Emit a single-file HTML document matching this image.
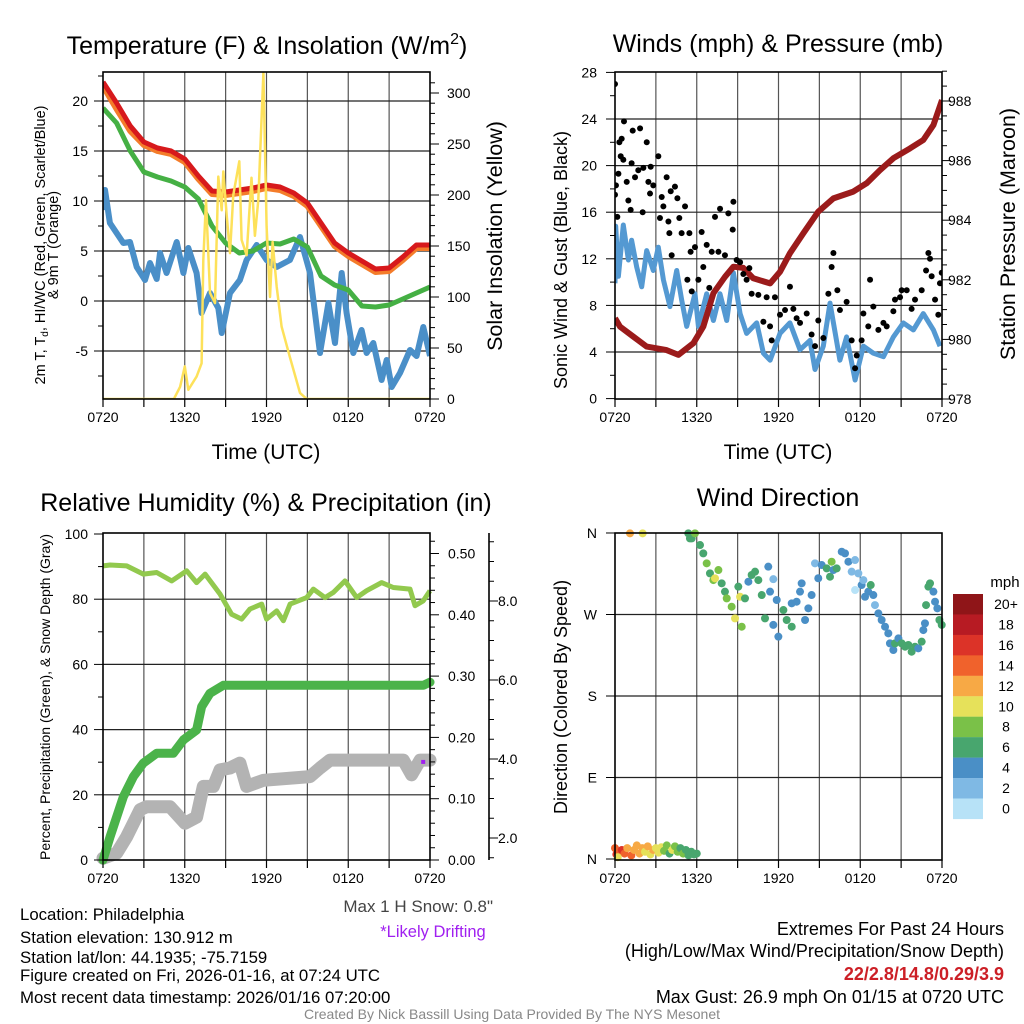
<!DOCTYPE html>
<html><head><meta charset="utf-8"><style>
body{margin:0;background:#fff;}
svg{display:block;font-family:"Liberation Sans",Arial,sans-serif;}
</style></head><body>
<svg id="chart" width="1024" height="1024" viewBox="0 0 1024 1024" xmlns="http://www.w3.org/2000/svg">
<rect width="1024" height="1024" fill="#fff"/>
<defs>
<clipPath id="c1"><rect x="103" y="72" width="327" height="327"/></clipPath>
<clipPath id="c2"><rect x="615" y="72" width="327" height="327"/></clipPath>
<clipPath id="c3"><rect x="96" y="526" width="342" height="340"/></clipPath>
<clipPath id="c4"><rect x="605" y="525" width="345" height="345"/></clipPath>
</defs>
<g id="g1"></g>
<g id="g2"></g>
<g id="g3"></g>
<g id="g4"></g>
<g font-size="25" fill="#000">
<text x="267" y="54" text-anchor="middle">Temperature (F) &amp; Insolation (W/m<tspan dy="-10" font-size="16">2</tspan><tspan dy="10">)</tspan></text>
<text x="778" y="52" text-anchor="middle">Winds (mph) &amp; Pressure (mb)</text>
<text x="266" y="511" text-anchor="middle">Relative Humidity (%) &amp; Precipitation (in)</text>
<text x="778" y="506" text-anchor="middle">Wind Direction</text>
<text x="266" y="459" text-anchor="middle" font-size="21">Time (UTC)</text>
<text x="778" y="459" text-anchor="middle" font-size="21">Time (UTC)</text>
<text transform="translate(45,245) rotate(-90)" text-anchor="middle" font-size="14.5"><tspan x="0" dy="0">2m T, T<tspan font-size="10" dy="3">d</tspan><tspan dy="-3">, HI/WC (Red, Green, Scarlet/Blue)</tspan></tspan><tspan x="0" dy="13">&amp; 9m T (Orange)</tspan></text>
<text transform="translate(502,236) rotate(-90)" text-anchor="middle" font-size="21.5">Solar Insolation (Yellow)</text>
<text transform="translate(567,260) rotate(-90)" text-anchor="middle" font-size="18">Sonic Wind &amp; Gust (Blue, Black)</text>
<text transform="translate(1015,234) rotate(-90)" text-anchor="middle" font-size="21.5">Station Pressure (Maroon)</text>
<text transform="translate(50,697) rotate(-90)" text-anchor="middle" font-size="14">Percent, Precipitation (Green), &amp; Snow Depth (Gray)</text>
<text transform="translate(567,697) rotate(-90)" text-anchor="middle" font-size="18">Direction (Colored By Speed)</text>
<text x="1005" y="587" text-anchor="middle" font-size="15">mph</text>
<text x="493" y="912" text-anchor="end" font-size="17" fill="#444">Max 1 H Snow: 0.8"</text>
<text x="433" y="937" text-anchor="middle" font-size="16.5" fill="#a020f0">*Likely Drifting</text>
<g font-size="16.8">
<text x="20" y="920">Location: Philadelphia</text>
<text x="20" y="943">Station elevation: 130.912 m</text>
<text x="20" y="963">Station lat/lon: 44.1935; -75.7159</text>
<text x="20" y="981">Figure created on Fri, 2026-01-16, at 07:24 UTC</text>
<text x="20" y="1003">Most recent data timestamp: 2026/01/16 07:20:00</text>
</g>
<g font-size="18" text-anchor="end">
<text x="1004" y="935">Extremes For Past 24 Hours</text>
<text x="1004" y="957">(High/Low/Max Wind/Precipitation/Snow Depth)</text>
<text x="1004" y="980" fill="#cc1f26" font-weight="bold">22/2.8/14.8/0.29/3.9</text>
<text x="1004" y="1003">Max Gust: 26.9 mph On 01/15 at 0720 UTC</text>
</g>
<text x="512" y="1019" text-anchor="middle" font-size="14" fill="#888">Created By Nick Bassill Using Data Provided By The NYS Mesonet</text>
</g>
</svg>
<script>
// ---- Panel 1 data (hours after 0720 UTC) ----
const hours = [0,1,2,3,4,5,6,7,8,9,10,11,12,13,14,15,16,17,18,19,20,21,22,23,24];
const tempRed = [21.9,19.8,17.5,15.9,15.3,15.0,14.2,12.5,11.0,10.9,11.1,11.3,11.6,11.4,10.8,9.8,7.8,5.8,4.8,4.0,3.2,3.3,4.4,5.6,5.6];
const temp9m = [21.5,19.2,17.0,15.6,15.0,14.7,13.9,12.2,10.7,10.6,10.8,11.0,11.3,11.1,10.5,9.5,7.5,5.5,4.5,3.7,2.9,3.0,4.1,5.3,5.3];
const dewGreen = [19.3,17.8,15.0,12.9,12.4,12.0,11.4,10.2,7.5,5.8,4.8,5.0,5.8,5.7,6.2,5.4,2.5,1.6,1.1,-0.5,-0.6,-0.4,0.2,0.8,1.4];
const wcTimes = [0,0.15,0.51,1.49,1.98,2.47,3.08,3.45,3.94,4.18,4.67,5.41,5.9,6.26,6.87,7.24,7.85,8.46,8.71,9.32,10.05,10.54,11.28,12.01,12.75,13.72,14.46,15.19,15.93,16.54,17.03,17.52,17.88,18.37,18.98,19.35,19.84,20.45,20.82,21.19,21.8,22.53,23.02,23.51,24];
const wcBlue = [9.1,11.1,7.8,5.8,5.9,3.4,2.1,3.8,2.2,4.8,2.8,5.9,2.8,5.3,2.8,-1.2,0.8,-0.7,-3.2,0.8,2.1,4.1,5.6,4.1,3.4,4.1,6.4,2.8,-5.2,-0.2,-4.2,2.8,-1.2,-5.2,-2.9,-5.2,-4.2,-7.9,-5.9,-8.6,-7.2,-4.9,-5.5,-2.6,-5.5];
const solarTimes = [0,5.2,5.66,6.0,6.26,6.87,7.24,7.36,7.56,7.85,8.22,8.46,8.71,8.83,9.08,9.32,9.56,10.0,10.17,10.54,10.9,11.15,11.4,11.77,12.01,12.26,12.45,12.75,13.11,13.72,14.46,14.95,24];
const solarW = [0,0,12,32,9,22,35,136,195,104,94,218,185,223,180,143,200,233,156,141,217,160,195,320,169,100,154,110,71,41,6,0,0];
// ---- Panel 2 data ----
const windTimes = [0,0.05,0.25,0.61,0.98,1.22,1.59,1.96,2.33,2.81,3.18,3.55,4.04,4.53,4.89,5.26,5.87,6.12,6.73,7.22,7.71,8.2,8.69,9.18,9.66,10.4,10.89,11.38,12.11,12.84,13.58,14.31,14.68,15.29,15.78,16.51,17,17.62,18.23,18.96,19.7,20.43,21.16,21.9,22.63,23.37,23.85];
const windSpd = [9.9,14.8,10.5,14.9,11.9,13.6,11.3,9.6,12.7,11.0,13.0,10.2,7.9,11.0,8.5,6.2,9.0,6.2,9.0,6.7,9.0,6.7,10.8,7.3,5.6,6.5,3.9,3.3,5.6,6.5,4.2,5.0,2.5,4.5,8.2,3.3,5.3,1.6,4.5,3.9,3.6,5.3,6.5,5.9,7.3,5.9,4.5];
const presTimes = [0,0.37,1.35,2.33,3.79,4.65,5.75,6.48,7.22,8.07,8.69,9.42,10.15,11.38,12.11,12.84,13.82,14.92,16.03,17.49,18.47,19.45,20.43,21.65,22.63,23.37,24];
const presMb = [980.71,980.43,980.09,979.76,979.64,979.48,979.87,980.43,981.55,982.1,982.44,982.4,982.05,981.88,982.27,982.89,983.56,984.29,984.73,984.96,985.24,985.68,986.08,986.41,986.69,987.19,988.03];
const gustTimes = [0,0,0.07,0.17,0.25,0.32,0.49,0.66,0.42,0.61,0.86,0.98,1.15,1.22,1.3,1.47,1.71,1.84,2.03,2.08,2.33,2.45,2.57,2.62,2.81,3.18,3.3,3.43,3.55,3.79,3.92,3.99,4.09,4.16,4.4,4.58,4.72,4.89,5.14,5.31,5.46,5.55,5.63,5.87,6.12,6.36,6.48,6.73,6.92,7.1,7.34,7.59,7.71,8.07,8.32,8.64,8.69,8.93,9.18,9.42,9.66,9.86,10.03,10.52,10.89,11.13,11.38,11.5,11.74,12.11,12.48,12.84,13.09,13.33,13.58,14.07,14.43,14.68,14.92,15.29,15.66,15.9,16.03,16.32,16.51,17.0,17.37,17.62,17.74,18.1,18.23,18.59,18.72,18.96,19.33,19.7,19.94,20.43,20.55,20.92,21.04,21.41,21.77,22.02,22.51,22.83,23.0,23.12,23.24,23.49,23.73,23.85,23.98];
const gustSpd = [27.0,17.5,18.3,15.6,19.3,22.0,22.3,23.8,20.8,20.5,18.6,17.0,16.2,20.2,23.0,19.0,19.6,23.2,16.0,19.8,22.0,18.6,17.6,19.9,18.3,20.8,15.5,17.3,16.5,19.0,15.2,14.2,17.8,12.3,18.2,17.2,15.5,14.2,16.5,10.2,14.2,12.6,9.2,13.0,10.2,14.3,11.3,13.2,9.5,12.6,15.6,12.6,16.3,12.3,15.9,14.5,16.9,11.9,11.7,10.7,10.2,11.2,9.0,8.9,6.6,8.7,6.2,5.0,8.7,7.2,7.6,9.6,7.7,6.9,6.5,7.3,5.5,4.5,6.7,5.2,9.0,11.3,12.5,9.3,7.6,8.3,5.0,2.6,3.7,5.0,7.3,6.2,10.2,7.9,5.9,6.5,6.2,7.5,8.5,8.7,9.3,9.3,7.7,8.5,9.3,11.0,12.5,12.0,10.5,8.5,7.2,9.9,10.8];
// ---- Panel 3 data ----
const rhTimes = [0,0.52,1.74,2.96,3.94,5.04,6.14,6.87,7.49,8.59,9.44,10.18,10.79,11.65,12.01,12.75,13.24,13.73,14.95,15.44,16.29,16.91,17.76,18.62,19.35,20.45,21.31,22.53,22.9,23.51,24];
const rhPct = [90.2,90.5,90.2,87.7,88.2,85.6,88.7,85.1,87.7,81.6,75.4,73.9,77.0,78.5,73.9,76.4,73.4,78.5,80.5,83.1,80.5,82.1,85.6,80.5,82.6,85.1,83.6,83.1,78.0,79.5,82.6];
const precipTimes = [0,0.52,1.49,2.23,2.96,3.94,5.16,5.9,6.87,7.24,7.85,8.83,23.51,24];
const precipIn = [0,0.038,0.103,0.136,0.158,0.174,0.174,0.196,0.212,0.25,0.272,0.285,0.285,0.29];
const snowTimes = [0,1.0,1.74,2.72,3.2,4.92,6.02,6.87,7.36,8.1,8.59,9.32,10.05,10.54,11.77,15.19,15.93,16.66,22.04,22.65,23.27,24];
const snowDepth = [0.003,0.011,0.038,0.082,0.087,0.087,0.06,0.07,0.12,0.12,0.147,0.15,0.158,0.12,0.13,0.136,0.15,0.163,0.163,0.139,0.163,0.163];
const driftT = [23.5];
const driftV = [0.16];
// ---- Panel 4 data ----
const dirTimes = [0,0.1,0.3,0.5,0.7,0.9,1.2,1.4,1.6,1.8,2.0,2.2,2.4,2.6,2.8,3.0,3.2,3.4,3.6,3.8,4.0,4.2,4.4,4.6,4.8,5.0,5.2,5.4,5.6,5.8,6.0,0.2,1.1,2.03,5.38,5.5,5.63,5.87,6.24,6.48,6.73,6.97,7.22,7.34,7.59,7.83,8.07,8.2,8.56,8.81,9.05,9.18,9.3,9.54,9.79,10.03,10.28,10.52,10.77,11.01,11.25,11.38,11.62,11.62,11.87,11.99,12.36,12.6,12.97,12.97,13.33,13.58,13.7,13.95,14.19,14.43,14.68,14.92,15.17,15.54,15.78,15.9,16.03,16.27,16.64,16.88,17.13,17.37,17.62,17.62,17.86,18.1,18.23,18.35,18.59,18.77,18.96,19.08,19.33,19.57,19.82,20.06,20.18,20.43,20.55,20.8,21.04,21.29,21.53,21.77,22.02,22.26,22.51,22.63,22.75,22.83,23.0,23.12,23.37,23.49,23.66,23.81,23.98];
const dirDeg = [12,5,8,10,6,12,4,10,15,6,12,8,14,5,10,12,7,13,9,15,6,10,14,8,12,6,10,4,8,5,6,2,359.6,359.6,359.6,354,354,359.6,346.7,337.5,326.5,315.4,308,309.9,319.1,304.4,295.2,287.8,278.6,265.7,300.7,289.6,256.5,287.8,306.2,313.6,317.3,308,291.5,265.7,322.8,295.2,309,258.5,286,245.5,274.9,263.9,256.5,282.3,284.1,295.2,304.4,263.9,276.8,291.5,326.5,310,324.6,320.9,311.7,328.3,319.1,320.9,339.3,337.5,328.3,317.3,330.1,297,315.4,302.5,308,289.6,295.2,302.5,291.5,280.4,271.2,263.9,256.5,249.2,238.1,230.8,238.1,243.6,238.1,234.4,236.3,228.9,234.4,232.6,240,252.8,260.2,280.4,300.7,304.4,295.2,284.1,276.8,263.9,258.5];
const dirSpd = [14,16,15,16,14,13,15,12,12,12,12,11,12,11,12,10,11,10,8,9,7,10,8,9,7,8,6,6,7,6,6,10,12,10,6,6,6,8,6,6,8,6,8,10,8,6,6,8,8,10,6,10,8,6,4,6,6,6,6,6,4,4,2,4,4,4,6,6,6,4,4,4,4,4,4,4,2,4,4,6,6,8,4,6,4,4,4,2,2,0,2,4,2,4,4,6,4,2,4,4,4,4,4,4,6,4,6,6,6,6,6,4,6,4,4,6,6,6,4,4,4,6,6];
const cbLabels = ["20+","18","16","14","12","10","8","6","4","2","0"];
const cbColors = ["#8f1518","#b71b23","#dc3328","#f0622c","#f7a945","#e6e15a","#7ac148","#48a66e","#4a8fc6","#7fb9e4","#b7e2f7"];
const xTickLabels = ["0720","1320","1920","0120","0720"];

const NS = "http://www.w3.org/2000/svg";
function mk(parent, tag, attrs, txt){const e=document.createElementNS(NS,tag);for(const k in attrs)e.setAttribute(k,attrs[k]);if(txt!==undefined)e.textContent=txt;parent.appendChild(e);return e;}
const X1 = t => 103 + t*13.625;
const X2 = t => 615 + t*13.625;
const Y1L = v => 301 - 10*v;
const Y1R = w => 399 - 1.02*w;
const Y2L = v => 398.6 - 11.65*v;
const Y2R = p => 399 - 29.8*(p-978);
const Y3L = v => 860 - 3.26*v;
const Y3R = p => 860 - 613*p;
const Y4 = d => 859 - 0.9056*d;
const Ysnow = v => 917 - 39.5*v;

function pathOf(ts, vs, X, Y){return ts.map((t,i)=>(i?"L":"M")+X(t).toFixed(1)+" "+Y(vs[i]).toFixed(1)).join(" ");}

function frame(g, x0, y0, x1, y1, grid){
  grid.xs.forEach(x=>{const l=mk(g,"line",{x1:x,y1:y0,x2:x,y2:y1,stroke:"#555","stroke-width":1.2});
    
    });
  grid.ys.forEach(y=>{const l=mk(g,"line",{x1:x0,y1:y,x2:x1,y2:y,stroke:"#222","stroke-width":1.2});
    
    });
}
function border(g,x0,y0,x1,y1){
  const r=mk(g,"rect",{x:x0,y:y0,width:x1-x0,height:y1-y0,fill:"none",stroke:"#000","stroke-width":1.6});
  
  
}
function xAxis(g, X, y1){
  for(let h=0;h<=24;h+=3){const l=mk(g,"line",{x1:X(h),y1:y1,x2:X(h),y2:y1+8,stroke:"#000","stroke-width":1.2});
    
    }
  xTickLabels.forEach((s,i)=>{const t=mk(g,"text",{x:X(i*6),y:y1+23,"text-anchor":"middle","font-size":14},s);
    
    });
}
function yTicks(g, side, x, Y, lo, hi, major, minor, fmt, labelX){
  const dir = side==="left"?-1:1;
  for(let v=lo; v<=hi+1e-9; v+=minor){
    const isMaj = Math.abs(v/major-Math.round(v/major))<1e-6;
    const y=Y(v);
    const l=mk(g,"line",{x1:x,y1:y,x2:x+dir*(isMaj?9:5),y2:y,stroke:"#000","stroke-width":1});
    
    
    if(isMaj && fmt){const t=mk(g,"text",{x:labelX,y:y+5,"text-anchor":side==="left"?"end":"start","font-size":14},fmt(v));
      
      }
  }
}
const xsGrid = X => [3,6,9,12,15,18,21].map(X);

// ===== Panel 1 =====
const g1=document.getElementById('g1');
frame(g1,103,72,430,399,{xs:xsGrid(X1),ys:[-5,0,5,10,15,20].map(Y1L)});
const c1=mk(g1,"g",{"clip-path":"url(#c1)"});


let p;
p=mk(c1,"path",{d:pathOf(wcTimes,wcBlue,X1,Y1L),fill:"none",stroke:"#4a8fc8","stroke-width":6,"stroke-linejoin":"round"});


p=mk(c1,"path",{d:pathOf(hours,dewGreen,X1,Y1L),fill:"none",stroke:"#45b044","stroke-width":5,"stroke-linejoin":"round"});


p=mk(c1,"path",{d:pathOf(hours,temp9m,X1,Y1L),fill:"none",stroke:"#f47c2a","stroke-width":6,"stroke-linejoin":"round"});


p=mk(c1,"path",{d:pathOf(hours,tempRed,X1,Y1L),fill:"none",stroke:"#d7191c","stroke-width":5,"stroke-linejoin":"round"});


p=mk(c1,"path",{d:pathOf(solarTimes,solarW,X1,Y1R),fill:"none",stroke:"#fde15a","stroke-width":2.5,"stroke-linejoin":"round"});


border(g1,103,72,430,399);
xAxis(g1,X1,399);
yTicks(g1,"left",103,Y1L,-7.5,22.5,5,2.5,v=>String(v),88);
yTicks(g1,"right",430,Y1R,0,310,50,10,v=>String(v),447);

// ===== Panel 2 =====
const g2=document.getElementById('g2');
frame(g2,615,72,942,399,{xs:xsGrid(X2),ys:[4,8,12,16,20,24].map(Y2L)});
const c2=mk(g2,"g",{"clip-path":"url(#c2)"});


p=mk(c2,"path",{d:pathOf(windTimes,windSpd,X2,Y2L),fill:"none",stroke:"#5499d2","stroke-width":5,"stroke-linejoin":"round"});


p=mk(c2,"path",{d:pathOf(presTimes,presMb,X2,Y2R),fill:"none",stroke:"#9b1b1b","stroke-width":6,"stroke-linejoin":"round"});


gustTimes.forEach((t,i)=>{const c=mk(c2,"circle",{cx:X2(t),cy:Y2L(gustSpd[i]),r:3,fill:"#000"});
  
  });
border(g2,615,72,942,399);
xAxis(g2,X2,399);
yTicks(g2,"left",615,Y2L,0,28,4,2,v=>String(v),597);
yTicks(g2,"right",942,Y2R,978,989,2,0.5,v=>String(v),948);

// ===== Panel 3 =====
const g3=document.getElementById('g3');
frame(g3,103,533,430,860,{xs:xsGrid(X1),ys:[20,40,60,80].map(Y3L)});
const c3=mk(g3,"g",{"clip-path":"url(#c3)"});


p=mk(c3,"path",{d:pathOf(rhTimes,rhPct,X1,Y3L),fill:"none",stroke:"#92c94e","stroke-width":5,"stroke-linejoin":"round"});


p=mk(c3,"path",{d:pathOf(snowTimes,snowDepth,X1,Y3R),fill:"none",stroke:"#b3b3b3","stroke-width":13,"stroke-linejoin":"round","stroke-linecap":"round"});


p=mk(c3,"path",{d:pathOf(precipTimes,precipIn,X1,Y3R),fill:"none",stroke:"#4bb34a","stroke-width":9,"stroke-linejoin":"round","stroke-linecap":"round"});


driftT.forEach((t,i)=>{const r=mk(c3,"rect",{x:X1(t)-2,y:Y3R(driftV[i])-2,width:4,height:4,fill:"#a020f0"});
  
  });
border(g3,103,533,430,860);
xAxis(g3,X1,860);
yTicks(g3,"left",103,Y3L,0,100,20,10,v=>String(v),88);
yTicks(g3,"right",430,Y3R,0,0.52,0.1,0.02,v=>v.toFixed(2),448);
const sa=mk(g3,"line",{x1:489,y1:533,x2:489,y2:860,stroke:"#000","stroke-width":1.6});


yTicks(g3,"right",489,Ysnow,1.5,9.5,2,0.5,v=>v.toFixed(1),498);

// ===== Panel 4 =====
const g4=document.getElementById('g4');
frame(g4,615,533,942,860,{xs:xsGrid(X2),ys:[90,180,270].map(Y4)});
const c4=mk(g4,"g",{"clip-path":"url(#c4)"});


function spdColor(s){let i=Math.min(10,Math.floor(s/2));return cbColors[10-i];}
dirTimes.forEach((t,i)=>{const c=mk(c4,"circle",{cx:X2(t),cy:Y4(dirDeg[i]),r:4,fill:spdColor(dirSpd[i])});
  
  });
border(g4,615,533,942,860);
xAxis(g4,X2,860);
["N","E","S","W","N"].forEach((s,i)=>{const y=Y4(i*90);
  const l=mk(g4,"line",{x1:615,y1:y,x2:606,y2:y,stroke:"#000","stroke-width":1});
  
  
  const t=mk(g4,"text",{x:597,y:y+5,"text-anchor":"end","font-size":14},s);
  
  });
cbColors.forEach((c,i)=>{const y=594+i*20.45;
  const r=mk(g4,"rect",{x:953,y:y,width:30,height:20.6,fill:c});
  
  
  const t=mk(g4,"text",{x:1006,y:y+15,"text-anchor":"middle","font-size":14},cbLabels[i]);
  
  });
</script>
</body></html>
